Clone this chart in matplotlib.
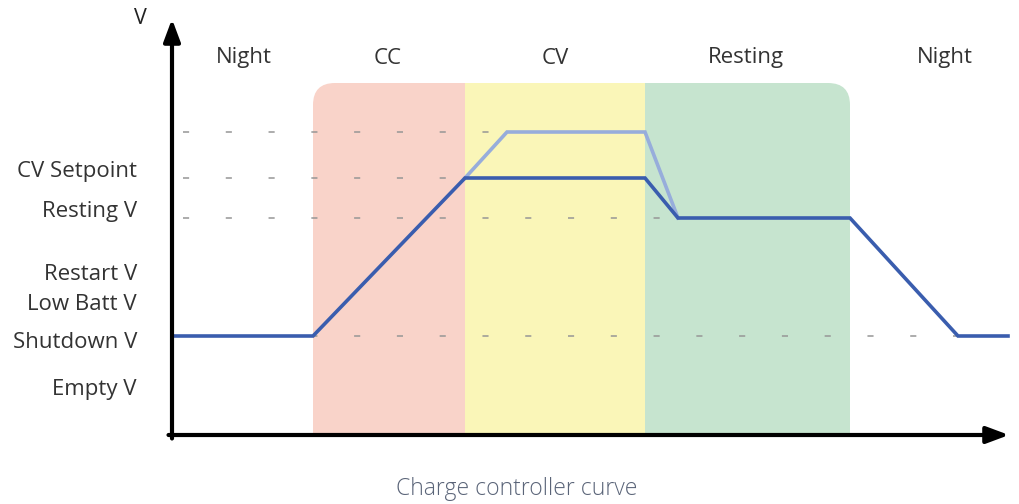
import matplotlib.pyplot as plt
from matplotlib.patches import FancyBboxPatch

# time (arbitrary units) and voltage (arbitrary units) of the controller curve
t_main = [0.3, 14.1, 29.3, 47.3, 50.6, 67.8, 78.6, 83.6]
v_main = [9.9, 9.9, 25.7, 25.7, 21.7, 21.7, 9.9, 9.9]
t_over = [29.3, 33.5, 47.3, 50.6]
v_over = [25.7, 30.3, 30.3, 21.7]

# reference levels and how far their guide dashes run
guide_v = [30.3, 25.7, 21.7, 9.9]
guide_end = [33.5, 29.3, 50.6, 78.6]

level_names = ["CV Setpoint", "Resting V", "Restart V", "Low Batt V", "Shutdown V", "Empty V"]
level_pos = [26.3, 22.3, 16.1, 13.0, 9.3, 4.5]

phases = ["CC", "CV", "Resting"]
phase_start = [14.1, 29.3, 47.3]
phase_end = [29.3, 47.3, 67.8]
phase_colors = ["#f9d3c9", "#faf6b8", "#c6e4cf"]
band_top = 35.2

top_labels = ["Night", "CC", "CV", "Resting", "Night"]
top_x = [7.2, 21.6, 38.3, 57.4, 77.3]

fig = plt.figure(figsize=(10.2, 5.04), dpi=100)
ax = fig.add_axes([0, 0, 1, 1])
ax.set_xlim(-17.2, 84.8)
ax.set_ylim(-6.9, 43.5)
ax.axis("off")

# coloured phase bands, clipped to one rounded box
clip = FancyBboxPatch((phase_start[0], -10), phase_end[-1] - phase_start[0], band_top + 10,
                      boxstyle="round,pad=0,rounding_size=2.2", transform=ax.transData,
                      facecolor="none", edgecolor="none")
ax.add_patch(clip)
for s, e, c in zip(phase_start, phase_end, phase_colors):
    r = ax.fill_between([s, e], -0.2, band_top, color=c, lw=0, zorder=1)
    r.set_clip_path(clip)

# guide dashes
for v, e in zip(guide_v, guide_end):
    ax.plot([1.1, e], [v, v], color="#969696", lw=1.1, dashes=(4.0, 24.0), zorder=2)

ax.plot(t_over, v_over, color="#97addb", lw=2.6, solid_joinstyle="miter", zorder=3)
ax.plot(t_main, v_main, color="#3a5dae", lw=2.6, solid_joinstyle="miter", zorder=4)

# axes with arrow heads
arrow = dict(arrowstyle="-|>,head_length=0.75,head_width=0.28", lw=3, color="black",
             shrinkA=0, shrinkB=0, mutation_scale=18)
ax.annotate("", xy=(0, 41.6), xytext=(0, -0.35), arrowprops=arrow, zorder=5)
ax.annotate("", xy=(83.7, 0), xytext=(-0.35, 0), arrowprops=arrow, zorder=5)

font = ["Open Sans", "DejaVu Sans"]
ax.text(-3.2, 41.7, "V", fontsize=15.5, ha="center", va="center", color="#222222", family=font)
for name, y in zip(level_names, level_pos):
    ax.text(-3.5, y, name, fontsize=16, ha="right", va="center", color="#333333", family=font)
for name, x in zip(top_labels, top_x):
    ax.text(x, 37.7, name, fontsize=16, ha="center", va="center", color="#333333", family=font)

ax.text(34.5, -5.4, "Charge controller curve", fontsize=16.5, ha="center", va="center",
        color="#5a6478", family=font, fontweight="light")

fig.savefig("out.png", dpi=100)
